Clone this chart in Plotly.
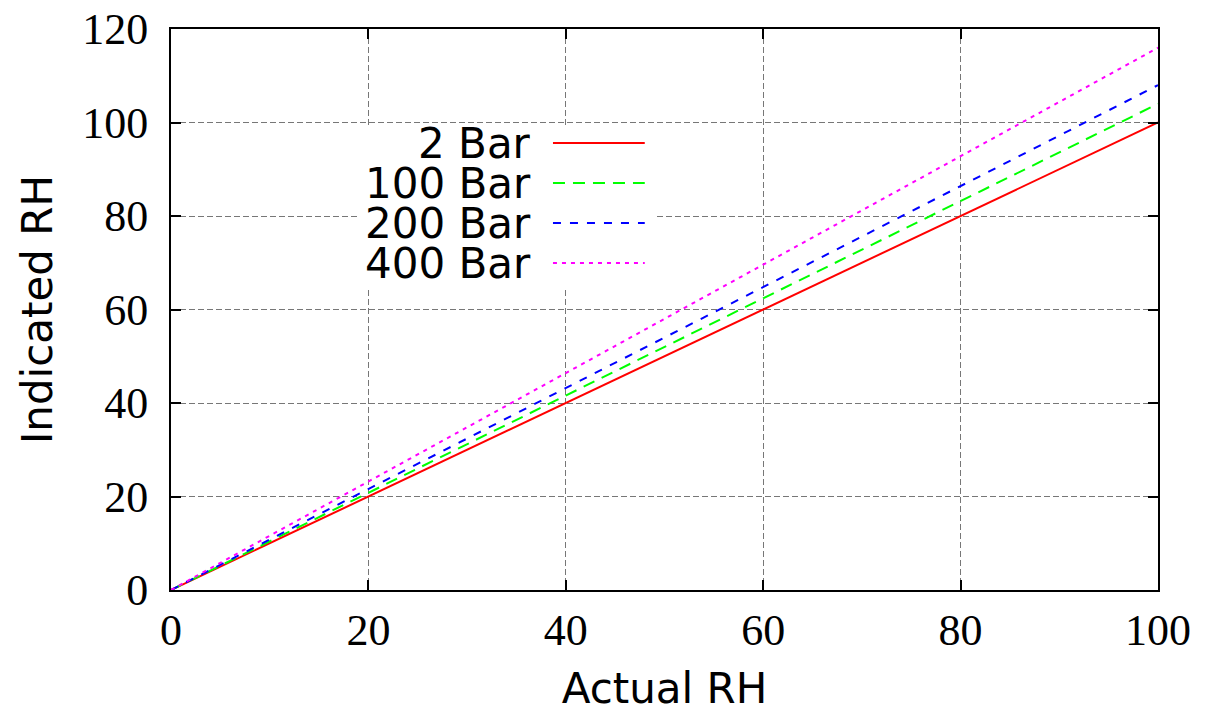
import plotly.graph_objects as go

actual_rh = [0, 100]
series_names = ["2 Bar", "100 Bar", "200 Bar", "400 Bar"]
indicated_2bar = [0, 100]
indicated_100bar = [0, 104]
indicated_200bar = [0, 108]
indicated_400bar = [0, 116]
x_ticks = [0, 20, 40, 60, 80, 100]
y_ticks = [0, 20, 40, 60, 80, 100, 120]

colors = ["#ff0000", "#00ff00", "#0000ff", "#ff00ff"]
dashes = ["solid", "12px,8px", "8px,9px", "4px,5px"]
series_vals = [indicated_2bar, indicated_100bar, indicated_200bar, indicated_400bar]

fig = go.Figure()
for name, vals, c, d in zip(series_names, series_vals, colors, dashes):
    fig.add_trace(go.Scatter(x=actual_rh, y=vals, mode="lines", name=name,
                             line=dict(color=c, width=2, dash=d), showlegend=False))

serif = "Liberation Serif"
sans = "DejaVu Sans"

axis_common = dict(
    showline=True, linecolor="black", linewidth=2, mirror="ticks",
    ticks="inside", ticklen=10, tickcolor="black", tickwidth=1.5,
    showgrid=True, gridcolor="#777777", gridwidth=1, griddash="6px,3px",
    zeroline=False, tickfont=dict(family=serif, size=44, color="black"),
    automargin=False, ticklabeloverflow="allow",
)

fig.update_xaxes(range=[0, 100], tickvals=x_ticks, ticklabelstandoff=0,
                 title=dict(text="Actual RH", font=dict(family=sans, size=42, color="black"), standoff=20),
                 **axis_common)
fig.update_yaxes(range=[0, 120], tickvals=y_ticks, ticklabelstandoff=12,
                 title=dict(text="Indicated RH", font=dict(family=sans, size=42, color="black"), standoff=17),
                 **axis_common)

# custom legend (text left, sample right)
shapes = [dict(type="rect", xref="paper", yref="paper", x0=0.1915, x1=0.49, y0=0.538, y1=0.829,
               fillcolor="white", line=dict(width=0), layer="above")]
annotations = []
row_y = [0.7968, 0.7255, 0.6542, 0.5829]
for name, c, d, yy in zip(series_names, colors, dashes, row_y):
    annotations.append(dict(x=0.3668, y=yy, xref="paper", yref="paper", text=name,
                            showarrow=False, xanchor="right", yanchor="middle",
                            height=38, valign="middle",
                            font=dict(family=sans, size=42, color="black")))
    shapes.append(dict(type="line", xref="paper", yref="paper", x0=0.387, x1=0.480, y0=yy, y1=yy,
                       line=dict(color=c, width=2, dash=d), layer="above"))

fig.update_layout(
    width=1205, height=718,
    margin=dict(l=171, r=47, t=29, b=128),
    plot_bgcolor="white", paper_bgcolor="white",
    shapes=shapes, annotations=annotations,
)

fig.write_html("out.html", config={"displayModeBar": False},
               post_script="document.body.style.margin='0';")
